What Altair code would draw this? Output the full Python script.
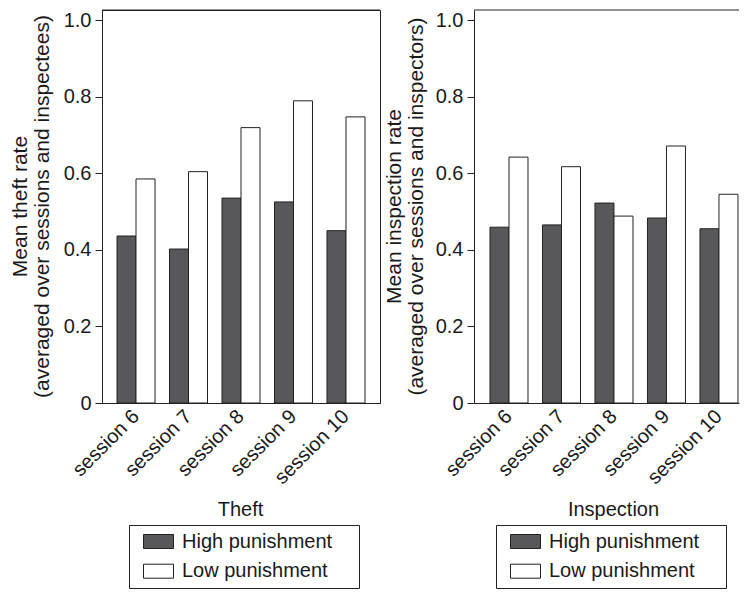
import altair as alt
import pandas as pd

sessions = ["session 6", "session 7", "session 8", "session 9", "session 10"]
groups = ["High punishment", "Low punishment"]
theft_high = [0.436, 0.402, 0.535, 0.525, 0.450]
theft_low = [0.585, 0.604, 0.719, 0.789, 0.747]
insp_high = [0.459, 0.465, 0.522, 0.483, 0.455]
insp_low = [0.642, 0.617, 0.488, 0.671, 0.545]
y_ticks = [0, 0.2, 0.4, 0.6, 0.8, 1.0]


def make_df(high, low):
    rows = []
    for s, h, l in zip(sessions, high, low):
        rows.append({"session": s, "group": groups[0], "value": h})
        rows.append({"session": s, "group": groups[1], "value": l})
    return pd.DataFrame(rows)


FONT = "Liberation Sans"
TXT = "#1a1a1a"
LINE = "#222222"
H = 393
YMAX = 393 / 383
# invisible trailing cells widen the legend box on its right side
PADS = "\u00a0\u2800"


def panel(df, width, ytitle, ytitle_x, xtitle, xtitle_x, legend_x, x_align, x_po, stroke):
    bars = alt.Chart(df).mark_bar(stroke=LINE, strokeWidth=1).encode(
        x=alt.X(
            "session:N", sort=sessions,
            scale=alt.Scale(paddingInner=0.276, paddingOuter=x_po, align=x_align),
            axis=alt.Axis(
                title=xtitle, labelAngle=315, labelAlign="right", labelBaseline="middle",
                labelPadding=10, ticks=False, tickSize=0, domainColor=LINE,
                labelFontSize=20, titleFontSize=20, titleFontWeight="normal",
                titleBaseline="alphabetic", titleY=112, titleX=xtitle_x, titleAlign="center",
                labelOverlap=False, labelColor=TXT, titleColor=TXT,
                labelFont=FONT, titleFont=FONT, labelLimit=300,
            ),
        ),
        xOffset=alt.XOffset("group:N", sort=groups,
                            scale=alt.Scale(paddingInner=0, paddingOuter=0)),
        y=alt.Y(
            "value:Q",
            scale=alt.Scale(domain=[0, YMAX], nice=False, zero=True),
            axis=alt.Axis(
                values=y_ticks,
                labelExpr="datum.value == 0 ? '0' : format(datum.value, '.1f')",
                title=ytitle, titleAngle=270, titleX=ytitle_x, titleY=196,
                titleBaseline="alphabetic", titleAlign="center", titleLineHeight=22,
                titleFontSize=21, titleFontWeight="normal", titleFont=FONT, titleColor=TXT,
                tickSize=7, tickColor=LINE, domainColor=LINE, labelPadding=4,
                labelFontSize=20, labelFont=FONT, labelColor=TXT, grid=False,
            ),
        ),
        color=alt.Color(
            "group:N", sort=groups,
            scale=alt.Scale(domain=groups, range=["#58585a", "#ffffff"]),
            legend=alt.Legend(
                title=None, orient="none", legendX=legend_x, legendY=515,
                direction="vertical", strokeColor=LINE, padding=6,
                symbolType="M-1.5,-0.7L1.5,-0.7L1.5,0.7L-1.5,0.7Z", symbolSize=400,
                symbolStrokeColor=LINE, symbolStrokeWidth=1, symbolOffset=13,
                labelOffset=13, labelFontSize=20, labelFont=FONT, labelColor=TXT,
                labelLimit=400, rowPadding=8.7,
                labelExpr="datum.label + '" + PADS + "'",
            ),
        ),
    )
    top = alt.Chart(alt.Data(values=[{}])).mark_rule(color=LINE, strokeWidth=1).encode(
        x=alt.value(0), x2=alt.value(width), y=alt.value(0)
    )
    return alt.layer(bars, top).properties(
        width=width, height=H, view=alt.ViewBackground(stroke=stroke)
    )


left = panel(make_df(theft_high, theft_low), 278,
             ["Mean theft rate", "(averaged over sessions and inspectees)"],
             -76, "Theft", 138, 27, 0.5, 0.286, LINE)
right = panel(make_df(insp_high, insp_low), 265,
              ["Mean inspection rate", "(averaged over sessions and inspectors)"],
              -74, "Inspection", 139, 22, 0.94, 0.162, "transparent")

chart = alt.hconcat(left, right, spacing=94, bounds="flush").resolve_scale(
    x="independent", y="independent", color="independent"
).properties(
    padding={"top": 1, "left": 0, "right": 0, "bottom": 0}
).configure(font=FONT)

chart.save("out.html", embed_options={"renderer": "svg", "actions": False})
